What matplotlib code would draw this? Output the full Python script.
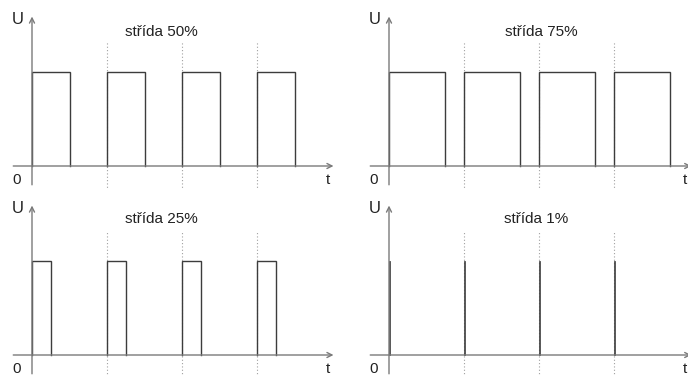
import numpy as np
import matplotlib
matplotlib.use("Agg")
from matplotlib import pyplot as plt

plt.rcParams['font.family'] = ['Liberation Sans', 'DejaVu Sans']

# duty cycles of the four panels (top-left, top-right, bottom-left, bottom-right)
titles = ['střída 50%', 'střída 75%', 'střída 25%', 'střída 1%']
duty = [0.50, 0.75, 0.25, 0.01]
pulse_starts = [0, 1, 2, 3]          # in periods
marks = [1, 2, 3]                    # dotted period marks
title_pos = [(1.73, 1.43), (2.03, 1.43), (1.73, 1.45), (1.96, 1.45)]

W, H = 688, 376
fig = plt.figure(figsize=(W / 100, H / 100), dpi=100)

# pixel layout of each panel: (left, bottom, width, height, origin x, origin y from panel top)
px = 75.0   # pixels per period
py = 94.0   # pixels per unit voltage
panels = [(0, 188, 344, 188, 32, 166),
          (344, 188, 344, 188, 45, 166),
          (0, 0, 344, 188, 32, 167),
          (344, 0, 344, 188, 45, 167)]

axis_col = '#7a7a7a'
line_col = '#3c3c3c'
txt_col = '#222222'

for i, (l, b, w, h, ox, oy) in enumerate(panels):
    ax = fig.add_axes([l / W, b / H, w / W, h / H])
    ax.set_xlim(-ox / px, (w - ox) / px)
    ax.set_ylim(-(h - oy) / py, oy / py)
    ax.axis('off')

    left = i % 2 == 0
    x_end = 4.02 if left else 4.03
    # axes with arrows
    ax.annotate('', xy=(x_end, 0), xytext=(-0.25, 0), annotation_clip=False,
                arrowprops=dict(arrowstyle='->', color=axis_col, lw=1.0,
                                shrinkA=0, shrinkB=0, mutation_scale=9))
    ax.annotate('', xy=(0, 1.59), xytext=(0, -0.2), annotation_clip=False,
                arrowprops=dict(arrowstyle='->', color=axis_col, lw=1.0,
                                shrinkA=0, shrinkB=0, mutation_scale=9))

    # dotted period marks
    for m in marks:
        ax.plot([m, m], [-0.3, 1.32], ls=(0, (1, 2)), color='#a0a0a0', lw=0.8)

    # pulses
    d = duty[i]
    for s in pulse_starts:
        ax.plot([s, s, s + d, s + d], [0, 1, 1, 0], color=line_col,
                lw=1.0 if d > 0.05 else 0.6, solid_joinstyle='miter')

    ax.text(-0.193, 1.56, 'U', fontsize=12, color=txt_col, ha='center', va='center')
    ax.text(-0.21, -0.15, '0', fontsize=11, color=txt_col, ha='center', va='center')
    ax.text(3.95, -0.15, 't', fontsize=11, color=txt_col, ha='center', va='center')
    tx, ty = title_pos[i]
    ax.text(tx, ty, titles[i], fontsize=11, color=txt_col, ha='center', va='center')

fig.savefig('out.png', dpi=100)
